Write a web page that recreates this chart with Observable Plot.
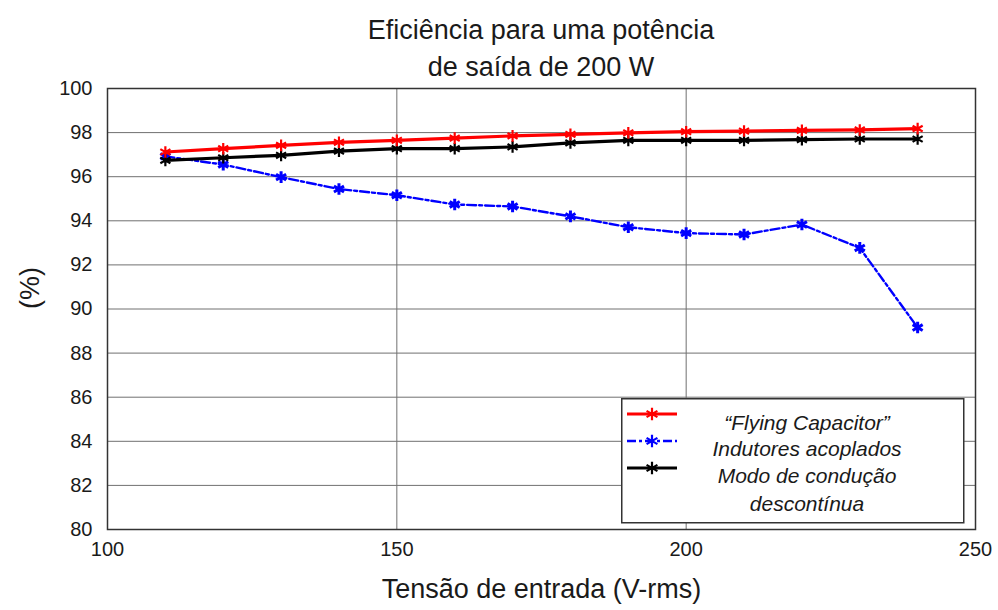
<!DOCTYPE html>
<html><head><meta charset="utf-8">
<script src="https://cdn.jsdelivr.net/npm/d3@7"></script>
<script src="https://cdn.jsdelivr.net/npm/@observablehq/plot@0.6"></script>
<style>
body{margin:0;background:#fff;font-family:"Liberation Sans Narrow","Liberation Sans",Arial,sans-serif;}
#wrap{position:relative;width:998px;height:610px;overflow:hidden;}
#title{position:absolute;left:107px;width:868px;top:12px;text-align:center;font-size:27px;line-height:37px;color:#1a1a1a;z-index:2;}
#chart{position:absolute;left:0;top:60px;}
#legend{position:absolute;left:621px;top:398px;}
</style></head>
<body>
<div id="wrap">
  <div id="title">Eficiência para uma potência<br>de saída de 200 W</div>
  <div id="chart"></div>
  <div id="legend"></div>
</div>
<script>
const voltages = [110,120,130,140,150,160,170,180,190,200,210,220,230,240];
const flyingCap = [97.12,97.27,97.42,97.56,97.65,97.75,97.85,97.92,97.99,98.04,98.07,98.10,98.12,98.18];
const indutores = [96.92,96.55,95.98,95.44,95.16,94.74,94.65,94.20,93.71,93.44,93.38,93.83,92.77,89.16];
const descontinua = [96.74,96.86,96.97,97.16,97.27,97.27,97.35,97.53,97.65,97.65,97.65,97.68,97.71,97.71];
const seriesNames = ["\u201CFlying Capacitor\u201D", "Indutores acoplados", "Modo de condução\ndescontínua"];
const seriesColors = ["#ff0000", "#0000ff", "#000000"];
const xTicks = [100,150,200,250];
const yTicks = [80,82,84,86,88,90,92,94,96,98,100];
const xLabel = "Tensão de entrada (V-rms)";
const yLabel = "(%)";

const values = [flyingCap, indutores, descontinua];
const data = values.flatMap((arr, s) => arr.map((v, i) => ({x: voltages[i], y: v, s})));
const font = '"Liberation Sans Narrow","Liberation Sans",Arial,sans-serif';

const lineStyles = [
  {strokeWidth: 3.2, dash: null},
  {strokeWidth: 2.4, dash: "9,3,3,3"},
  {strokeWidth: 3.2, dash: null}
];

const marks = [
  Plot.gridY(yTicks.slice(1, -1), {stroke: "#707070", strokeOpacity: 1, strokeWidth: 1}),
  Plot.gridX(xTicks.slice(1, -1), {stroke: "#707070", strokeOpacity: 1, strokeWidth: 1}),
  Plot.frame({stroke: "#333", strokeWidth: 1.5}),
  Plot.axisX(xTicks, {tickSize: 0, tickPadding: 12, fontSize: 20, label: null}),
  Plot.axisY(yTicks, {tickSize: 0, tickPadding: 15, fontSize: 20, label: null}),
  Plot.text([xLabel], {frameAnchor: "bottom", dy: 68, fontSize: 27, fill: "#1a1a1a"}),
  Plot.text([yLabel], {frameAnchor: "left", dx: -77, rotate: -90, fontSize: 27, fill: "#1a1a1a"})
];
[1, 2, 0].forEach(s => {
  const d = data.filter(p => p.s === s);
  marks.push(Plot.line(d, {x: "x", y: "y", stroke: seriesColors[s], strokeWidth: lineStyles[s].strokeWidth, strokeDasharray: lineStyles[s].dash}));
  marks.push(Plot.dot(d, {x: "x", y: "y", symbol: "asterisk", stroke: seriesColors[s], r: 5.5, strokeWidth: s === 1 ? 3 : 2.2}));
});

const chart = Plot.plot({
  width: 998, height: 550,
  marginLeft: 107, marginRight: 23, marginTop: 28, marginBottom: 81,
  style: {fontFamily: font, fontSize: "20px", color: "#1a1a1a", background: "transparent"},
  x: {domain: [100, 250]},
  y: {domain: [80, 100]},
  marks
});
document.getElementById("chart").append(chart);

// Legend
const W = 342, H = 124;
const svg = d3.create("svg").attr("width", W + 2).attr("height", H + 2)
  .style("font-family", font);
svg.append("rect").attr("x", 0.75).attr("y", 0.75).attr("width", W).attr("height", H)
  .attr("fill", "#fff").attr("stroke", "#333").attr("stroke-width", 1.5);
const sampleY = [16, 43, 70];
const sym = d3.symbol(d3.symbolAsterisk, 110);
seriesColors.forEach((c, s) => {
  const g = svg.append("g").attr("transform", `translate(0,${sampleY[s]})`);
  g.append("line").attr("x1", 6).attr("x2", 56).attr("y1", 0).attr("y2", 0)
    .attr("stroke", c).attr("stroke-width", lineStyles[s].strokeWidth)
    .attr("stroke-dasharray", lineStyles[s].dash);
  g.append("path").attr("d", sym()).attr("transform", "translate(31,0)")
    .attr("stroke", c).attr("stroke-width", 2.2).attr("fill", "none");
});
const lines = seriesNames.flatMap(n => n.split("\n"));
const textY = [24, 50, 77, 105];
lines.forEach((t, i) => {
  svg.append("text").attr("x", 186).attr("y", textY[i])
    .attr("text-anchor", "middle").attr("dominant-baseline", "central")
    .attr("font-style", "italic").attr("font-size", 21).attr("fill", "#1a1a1a").text(t);
});
document.getElementById("legend").append(svg.node());
</script>
</body></html>
